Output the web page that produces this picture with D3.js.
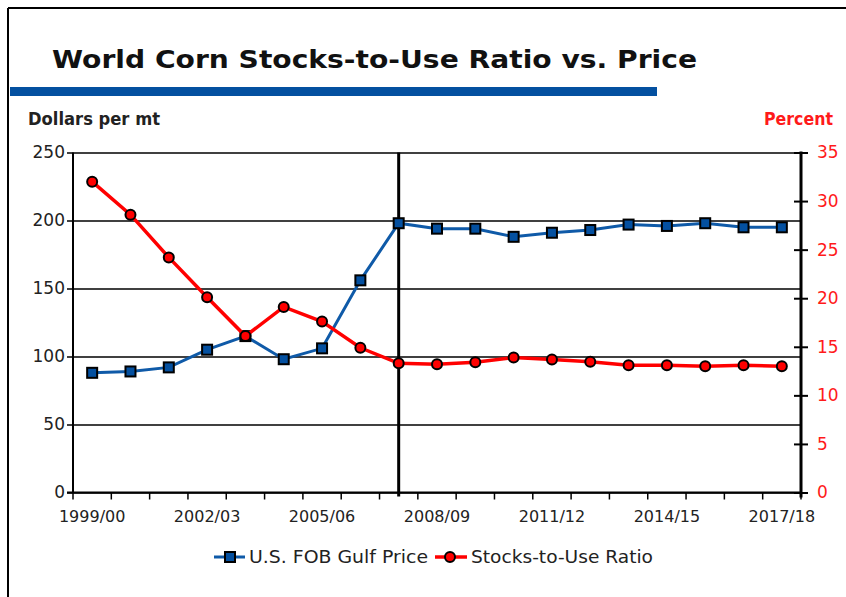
<!DOCTYPE html>
<html>
<head>
<meta charset="utf-8">
<script src="https://cdn.jsdelivr.net/npm/d3@7"></script>
<style>
  body { margin: 0; background: #fff; }
  svg { display: block; }
</style>
</head>
<body>
<div id="chart"></div>
<script>
// Marketing years on the x axis
var seasons = ["1999/00", "2000/01", "2001/02", "2002/03", "2003/04", "2004/05", "2005/06",
  "2006/07", "2007/08", "2008/09", "2009/10", "2010/11", "2011/12", "2012/13",
  "2013/14", "2014/15", "2015/16", "2016/17", "2017/18"];

// U.S. FOB Gulf price, dollars per mt (left axis)
var price = [88, 89, 92, 105, 115, 98, 106, 156, 198, 194, 194, 188, 191, 193, 197, 196, 198, 195, 195];

// World corn stocks-to-use ratio, percent (right axis)
var ratio = [32.0, 28.6, 24.2, 20.1, 16.1, 19.1, 17.6, 14.9, 13.3, 13.2, 13.4, 13.9, 13.7, 13.45, 13.1, 13.1, 13.0, 13.1, 13.0];

var xLabels = ["1999/00", "2002/03", "2005/06", "2008/09", "2011/12", "2014/15", "2017/18"];
var leftTicks = [0, 50, 100, 150, 200, 250];
var rightTicks = [0, 5, 10, 15, 20, 25, 30, 35];
var markerYear = "2007/08";

var width = 846, height = 597;
var font = "'DejaVu Sans', Verdana, sans-serif";

var svg = d3.select('#chart')
  .append('svg')
  .attr('width', width)
  .attr('height', height);

// Frame lines (top and left)
svg.append('line').attr('x1', 8).attr('y1', 8).attr('x2', width).attr('y2', 8)
  .attr('stroke', '#000').attr('stroke-width', 2);
svg.append('line').attr('x1', 8).attr('y1', 8).attr('x2', 8).attr('y2', height)
  .attr('stroke', '#000').attr('stroke-width', 2);

// Title and blue rule
svg.append('text')
  .attr('x', 52)
  .attr('y', 68)
  .attr('textLength', 645)
  .attr('lengthAdjust', 'spacingAndGlyphs')
  .style('font-family', font)
  .style('font-weight', 'bold')
  .style('font-size', '25px')
  .attr('fill', '#111')
  .text('World Corn Stocks-to-Use Ratio vs. Price');

svg.append('rect')
  .attr('x', 10).attr('y', 87)
  .attr('width', 647).attr('height', 9)
  .attr('fill', '#0450a0');

// Plot box
var plotLeft = 73, plotRight = 801, plotTop = 152.5, plotBottom = 492.5;

var x = d3.scaleBand()
  .domain(seasons)
  .range([plotLeft, plotRight]);

var yPrice = d3.scaleLinear()
  .domain([0, 250])
  .range([plotBottom, plotTop]);

var yRatio = d3.scaleLinear()
  .domain([0, 35])
  .range([plotBottom, plotTop]);

function cx(s) { return x(s) + x.bandwidth() / 2; }

// Axis titles
svg.append('text')
  .attr('x', 28).attr('y', 125)
  .style('font-family', font).style('font-size', '17px')
  .style('font-weight', 'bold')
  .attr('textLength', 132)
  .attr('lengthAdjust', 'spacingAndGlyphs')
  .attr('fill', '#222')
  .text('Dollars per mt');

svg.append('text')
  .attr('x', 764).attr('y', 125)
  .style('font-family', font).style('font-size', '17px')
  .style('font-weight', 'bold')
  .attr('textLength', 69)
  .attr('lengthAdjust', 'spacingAndGlyphs')
  .attr('fill', '#ff1a1a')
  .text('Percent');

// Horizontal gridlines (left axis ticks)
svg.append('g')
  .attr('class', 'y-left')
  .attr('transform', 'translate(' + plotLeft + ',0)')
  .call(d3.axisLeft(yPrice).tickValues(leftTicks).tickSize(-(plotRight - plotLeft)).tickSizeOuter(0).tickPadding(8))
  .call(function(g) {
    g.select('.domain').remove();
    g.selectAll('.tick line')
      .attr('x1', -6)
      .attr('stroke', '#000')
      .attr('stroke-width', 1.5);
    g.selectAll('.tick text')
      .style('font-family', font)
      .style('font-size', '17px')
      .attr('fill', '#222');
  });

// Left axis line
svg.append('line')
  .attr('x1', plotLeft).attr('x2', plotLeft)
  .attr('y1', plotTop).attr('y2', plotBottom)
  .attr('stroke', '#000').attr('stroke-width', 2);

// Bottom axis: labels every third season, ticks at band edges
svg.append('g')
  .attr('class', 'x-axis')
  .attr('transform', 'translate(0,' + plotBottom + ')')
  .call(d3.axisBottom(x).tickValues(xLabels).tickSize(0).tickPadding(18))
  .call(function(g) {
    g.select('.domain').remove();
    g.selectAll('.tick text')
      .style('font-family', font)
      .style('font-size', '16px')
      .attr('fill', '#222');
  });

var edges = seasons.map(function(s) { return x(s); }).concat([x.range()[1]]);
svg.append('g')
  .selectAll('line')
  .data(edges)
  .enter()
  .append('line')
  .attr('x1', function(d) { return d; })
  .attr('x2', function(d) { return d; })
  .attr('y1', plotBottom)
  .attr('y2', plotBottom + 7)
  .attr('stroke', '#000')
  .attr('stroke-width', 1.5);

svg.append('line')
  .attr('x1', plotLeft - 6).attr('x2', plotRight)
  .attr('y1', plotBottom).attr('y2', plotBottom)
  .attr('stroke', '#000').attr('stroke-width', 2);

// Right axis
svg.append('g')
  .attr('class', 'y-right')
  .attr('transform', 'translate(' + plotRight + ',0)')
  .call(d3.axisRight(yRatio).tickValues(rightTicks).tickSize(7).tickSizeOuter(0).tickPadding(9))
  .call(function(g) {
    g.select('.domain').remove();
    g.selectAll('.tick line')
      .attr('x1', -7)
      .attr('stroke', '#000')
      .attr('stroke-width', 2);
    g.selectAll('.tick text')
      .style('font-family', font)
      .style('font-size', '17px')
      .attr('fill', '#ff1a1a');
  });

svg.append('line')
  .attr('x1', plotRight).attr('x2', plotRight)
  .attr('y1', plotTop - 1).attr('y2', plotBottom + 5)
  .attr('stroke', '#000').attr('stroke-width', 3);

// Vertical marker line at 2007/08
svg.append('line')
  .attr('x1', cx(markerYear)).attr('x2', cx(markerYear))
  .attr('y1', plotTop).attr('y2', plotBottom + 4)
  .attr('stroke', '#000').attr('stroke-width', 3);

// Price series
var priceLine = d3.line()
  .x(function(d, i) { return cx(seasons[i]); })
  .y(function(d) { return yPrice(d); });

svg.append('path')
  .datum(price)
  .attr('d', priceLine)
  .attr('fill', 'none')
  .attr('stroke', '#0f5aa8')
  .attr('stroke-width', 3);

svg.selectAll('.price-pt')
  .data(price)
  .enter()
  .append('rect')
  .attr('class', 'price-pt')
  .attr('x', function(d, i) { return cx(seasons[i]) - 5; })
  .attr('y', function(d) { return yPrice(d) - 5; })
  .attr('width', 10)
  .attr('height', 10)
  .attr('fill', '#0450a0')
  .attr('stroke', '#000')
  .attr('stroke-width', 2);

// Stocks-to-use series
var ratioLine = d3.line()
  .x(function(d, i) { return cx(seasons[i]); })
  .y(function(d) { return yRatio(d); });

svg.append('path')
  .datum(ratio)
  .attr('d', ratioLine)
  .attr('fill', 'none')
  .attr('stroke', '#ff0000')
  .attr('stroke-width', 3.5);

svg.selectAll('.ratio-pt')
  .data(ratio)
  .enter()
  .append('circle')
  .attr('class', 'ratio-pt')
  .attr('cx', function(d, i) { return cx(seasons[i]); })
  .attr('cy', function(d) { return yRatio(d); })
  .attr('r', 5)
  .attr('fill', '#ff0000')
  .attr('stroke', '#000')
  .attr('stroke-width', 2);

// Legend
var legend = svg.append('g').attr('transform', 'translate(0,557)');

legend.append('line')
  .attr('x1', 214).attr('x2', 245).attr('y1', 0).attr('y2', 0)
  .attr('stroke', '#0f5aa8').attr('stroke-width', 3);
legend.append('rect')
  .attr('x', 225).attr('y', -5).attr('width', 10).attr('height', 10)
  .attr('fill', '#0450a0').attr('stroke', '#000').attr('stroke-width', 2);
legend.append('text')
  .attr('x', 249).attr('y', 6)
  .style('font-family', font).style('font-size', '17px')
  .attr('textLength', 179)
  .attr('lengthAdjust', 'spacingAndGlyphs')
  .attr('fill', '#222')
  .text('U.S. FOB Gulf Price');

legend.append('line')
  .attr('x1', 435).attr('x2', 467).attr('y1', 0).attr('y2', 0)
  .attr('stroke', '#ff0000').attr('stroke-width', 3.5);
legend.append('circle')
  .attr('cx', 450).attr('cy', 0).attr('r', 5)
  .attr('fill', '#ff0000').attr('stroke', '#000').attr('stroke-width', 2);
legend.append('text')
  .attr('x', 471).attr('y', 6)
  .style('font-family', font).style('font-size', '17px')
  .attr('textLength', 182)
  .attr('lengthAdjust', 'spacingAndGlyphs')
  .attr('fill', '#222')
  .text('Stocks-to-Use Ratio');
</script>
</body>
</html>
